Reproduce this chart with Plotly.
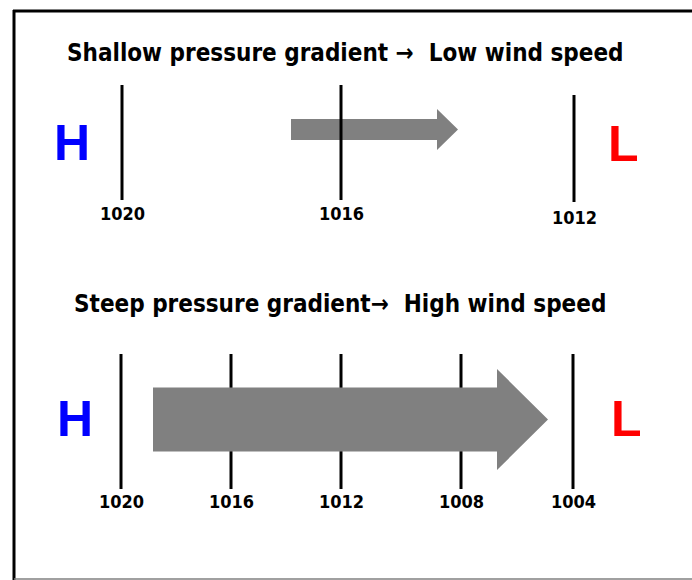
import plotly.graph_objects as go

# ---- data ----
top_title = "Shallow pressure gradient \u2192  Low wind speed"
bottom_title = "Steep pressure gradient\u2192  High wind speed"
top_isobars = [1020, 1016, 1012]
bottom_isobars = [1020, 1016, 1012, 1008, 1004]
high_label = "H"
low_label = "L"

# ---- layout geometry (pixel space) ----
W, H = 692, 580
top_x = [122, 341, 574]
top_y0 = [85, 85, 95]
top_y1 = [200, 200, 202]
top_lab_y = [213, 213, 217]
bot_x = [121, 231, 341, 461, 573]
bot_y0, bot_y1, bot_lab_y = 354, 489, 501

# arrow: (shaft start, head base, tip x, center y, shaft half height, head half height)
top_arrow = (291, 437, 458, 129.5, 10.5, 20.5)
bot_arrow = (153, 497, 548, 419.5, 32, 50.5)

BLUE, RED, GRAY, BLACK = "#0000FF", "#FF0000", "#808080", "#000000"
TITLE_FONT = "DejaVu Sans Condensed, Liberation Sans Narrow, Arial Narrow, sans-serif"
LAB_FONT = "Liberation Sans, Arial, sans-serif"


def arrow_poly(a):
    x0, xb, xt, yc, hs, hh = a
    xs = [x0, xb, xb, xt, xb, xb, x0, x0]
    ys = [yc - hs, yc - hs, yc - hh, yc, yc + hh, yc + hs, yc + hs, yc - hs]
    return xs, ys


fig = go.Figure()

# top arrow (behind its isobar)
xs, ys = arrow_poly(top_arrow)
fig.add_trace(go.Scatter(x=xs, y=ys, mode="lines", fill="toself",
                         fillcolor=GRAY, line=dict(color=GRAY, width=0),
                         hoverinfo="skip", showlegend=False))

# isobar lines
lx, ly = [], []
for x, y0, y1 in zip(top_x, top_y0, top_y1):
    lx += [x, x, None]
    ly += [y0, y1, None]
for x in bot_x:
    lx += [x, x, None]
    ly += [bot_y0, bot_y1, None]
fig.add_trace(go.Scatter(x=lx, y=ly, mode="lines", line=dict(color=BLACK, width=3),
                         hoverinfo="skip", showlegend=False))

# bottom arrow covers the isobars it crosses
xs, ys = arrow_poly(bot_arrow)
fig.add_trace(go.Scatter(x=xs, y=ys, mode="lines", fill="toself",
                         fillcolor=GRAY, line=dict(color=GRAY, width=0),
                         hoverinfo="skip", showlegend=False))

# isobar labels
for v, x, y in zip(top_isobars, top_x, top_lab_y):
    fig.add_annotation(x=x, y=y, text=f"<b>{v}</b>", showarrow=False,
                       font=dict(family=TITLE_FONT, size=18, color=BLACK))
for v, x in zip(bottom_isobars, bot_x):
    fig.add_annotation(x=x, y=bot_lab_y, text=f"<b>{v}</b>", showarrow=False,
                       font=dict(family=TITLE_FONT, size=18, color=BLACK))

# titles
fig.add_annotation(x=345, y=53, text=f"<b>{top_title}</b>", showarrow=False,
                   font=dict(family=TITLE_FONT, size=24, color=BLACK))
fig.add_annotation(x=340, y=304, text=f"<b>{bottom_title}</b>", showarrow=False,
                   font=dict(family=TITLE_FONT, size=24, color=BLACK))

# H / L
for x, y, t, c in [(72, 143, high_label, BLUE), (623, 144, low_label, RED),
                   (75, 419, high_label, BLUE), (626, 419, low_label, RED)]:
    fig.add_annotation(x=x, y=y, text=f"<b>{t}</b>", showarrow=False,
                       font=dict(family=LAB_FONT, size=50, color=c))

# frame
fig.add_shape(type="line", x0=14, x1=14, y0=10, y1=580, line=dict(color=BLACK, width=3))
fig.add_shape(type="line", x0=13, x1=W, y0=11, y1=11, line=dict(color=BLACK, width=3))
fig.add_shape(type="line", x0=14, x1=W, y0=579, y1=579, line=dict(color=GRAY, width=1.5))

fig.update_layout(
    width=W, height=H, margin=dict(l=0, r=0, t=0, b=0),
    paper_bgcolor="white", plot_bgcolor="white",
    xaxis=dict(range=[0, W], visible=False, fixedrange=True),
    yaxis=dict(range=[H, 0], visible=False, fixedrange=True),
    showlegend=False,
)

fig.write_html("out.html", config={"displayModeBar": False},
               post_script="document.body.style.margin='0';")
